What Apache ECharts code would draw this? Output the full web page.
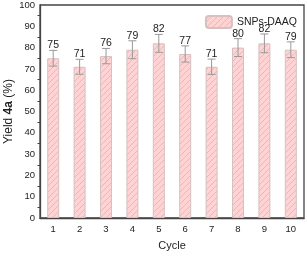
<!DOCTYPE html>
<html><head><meta charset="utf-8">
<script src="https://cdn.jsdelivr.net/npm/echarts@6/dist/echarts.min.js"></script>
<style>html,body{margin:0;padding:0;background:#fff}#c{width:307px;height:254px}</style>
</head><body><div id="c"></div>
<script>
const cycles = ['1','2','3','4','5','6','7','8','9','10'];
const yields = [75,71,76,79,82,77,71,80,82,79];
const errors = [3.7,3.5,3.6,4.2,4.2,3.8,3.6,4.2,4.4,3.7];
const yTicks = [0,10,20,30,40,50,60,70,80,90,100];
const seriesName = 'SNPs-DAAQ';

function hatch(){
  const c = document.createElement('canvas');
  c.width = 6; c.height = 6;
  const g = c.getContext('2d');
  g.fillStyle = '#ffd3d3';
  g.fillRect(0,0,6,6);
  g.strokeStyle = 'rgba(230,155,155,0.7)';
  g.lineWidth = 0.8;
  g.beginPath();
  g.moveTo(-1,7); g.lineTo(7,-1);
  g.moveTo(-1,1); g.lineTo(1,-1);
  g.moveTo(5,7); g.lineTo(7,5);
  g.stroke();
  return c;
}
const pat = {image: hatch(), repeat: 'repeat'};
const txt = '#222';
const font = 'Arial, "Liberation Sans", sans-serif';

const chart = echarts.init(document.getElementById('c'));
chart.setOption({
  animation: false,
  textStyle: {fontFamily: font},
  grid: {left: 40, right: 3, top: 5, bottom: 36, show: true, borderColor: '#444', borderWidth: 1.3,
    containLabel: false, outerBoundsMode: 'none'},
  legend: {
    right: 5, top: 10, itemWidth: 26, itemHeight: 12, itemGap: 2,
    data: [seriesName],
    textStyle: {fontSize: 10.5, color: txt, fontFamily: font}
  },
  xAxis: {
    type: 'category', data: cycles,
    name: 'Cycle', nameLocation: 'middle', nameGap: 22, nameMoveOverlap: false,
    nameTextStyle: {fontSize: 11, color: txt},
    axisLine: {lineStyle: {color: '#444', width: 1.3}},
    axisTick: {alignWithLabel: true, length: 4, lineStyle: {color: '#444'}},
    axisLabel: {fontSize: 9.5, color: txt, margin: 6}
  },
  yAxis: {
    type: 'value', min: 0, max: 100, interval: 10,
    name: 'Yield {b|4a} (%)', nameLocation: 'middle', nameGap: 25, nameMoveOverlap: false,
    nameTextStyle: {fontSize: 12, color: txt, rich: {b: {fontWeight: 'bold', fontSize: 12, color: txt}}},
    axisLine: {show: true, lineStyle: {color: '#444', width: 1.3}},
    axisTick: {length: 4, lineStyle: {color: '#444'}},
    minorTick: {show: true, splitNumber: 2, length: 2.5, lineStyle: {color: '#444'}},
    splitLine: {show: false},
    axisLabel: {fontSize: 9.5, color: txt, margin: 5,
      formatter: v => yTicks.indexOf(v) >= 0 ? String(v) : ''}
  },
  series: [
    {
      name: seriesName, type: 'bar', data: yields, barWidth: 12,
      itemStyle: {color: pat, borderColor: '#d6c0c0', borderWidth: 1}
    },
    {
      type: 'custom', name: 'err', silent: true,
      data: yields.map((v,i) => [i, v, errors[i]]),
      renderItem: function(params, api){
        const i = api.value(0), v = api.value(1), e = api.value(2);
        const hi = api.coord([i, v + e]);
        const lo = api.coord([i, v - e]);
        const cw = 4;
        const st = {stroke: '#999', lineWidth: 1};
        return {type: 'group', children: [
          {type: 'line', shape: {x1: hi[0], y1: hi[1], x2: lo[0], y2: lo[1]}, style: st},
          {type: 'line', shape: {x1: hi[0]-cw, y1: hi[1], x2: hi[0]+cw, y2: hi[1]}, style: st},
          {type: 'line', shape: {x1: lo[0]-cw, y1: lo[1], x2: lo[0]+cw, y2: lo[1]}, style: st},
          {type: 'text', style: {x: hi[0], y: hi[1]+0.5, text: String(v), textAlign: 'center', textVerticalAlign: 'bottom',
            fontSize: 10.5, fill: txt, fontFamily: font}}
        ]};
      },
      z: 3
    }
  ]
});
</script></body></html>
